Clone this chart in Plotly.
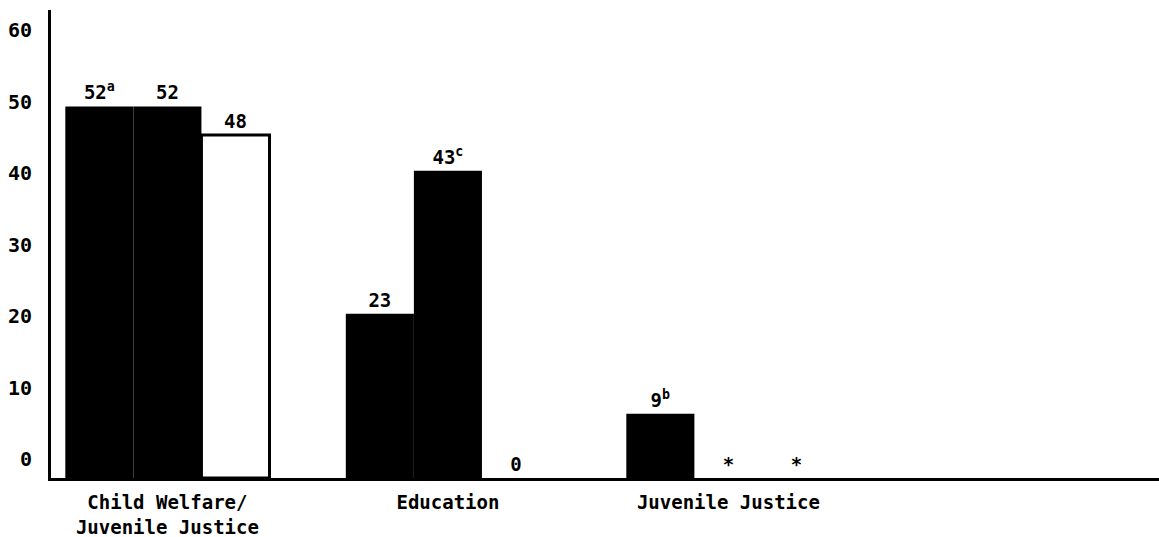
import plotly.graph_objects as go

# Program areas along the horizontal axis
categories = ["Child Welfare/<br>Juvenile Justice", "Education", "Juvenile Justice"]

# Three series per program area (None = not applicable, shown as "*")
series_1 = [52, 23, 9]
series_2 = [52, 43, None]
series_3 = [48, 0, None]

# Labels printed above each bar
labels_1 = ["52<sup>a</sup>", "23", "9<sup>b</sup>"]
labels_2 = ["52", "43<sup>c</sup>", "*"]
labels_3 = ["48", "0", "*"]

y_ticks = [0, 10, 20, 30, 40, 50, 60]

FONT = "DejaVu Sans Mono"


def heights(values):
    return [0 if v is None else v for v in values]


fig = go.Figure()

for vals, labels, fill in [
    (series_1, labels_1, "black"),
    (series_2, labels_2, "black"),
    (series_3, labels_3, "white"),
]:
    outline = [0 if (fill == "black" or not v) else 3 for v in vals]
    fig.add_trace(go.Bar(
        x=categories,
        y=heights(vals),
        text=labels,
        textposition="outside",
        cliponaxis=False,
        textfont=dict(family=FONT, size=19, color="black", weight="bold"),
        marker=dict(color=fill, line=dict(color="black", width=outline)),
        showlegend=False,
    ))

fig.update_layout(
    width=1159,
    height=537,
    margin=dict(l=51, r=0, t=10, b=59),
    paper_bgcolor="white",
    plot_bgcolor="white",
    barmode="group",
    bargap=0.272,
    bargroupgap=0,
    font=dict(family=FONT, color="black"),
    xaxis=dict(
        type="category",
        range=[-0.415, 3.535],
        automargin=False,
        showline=True,
        linecolor="black",
        linewidth=3,
        showgrid=False,
        ticks="",
        tickfont=dict(family=FONT, size=19, color="black", weight="bold"),
        ticklabelstandoff=5,
    ),
    yaxis=dict(
        range=[0, 65.5],
        automargin=False,
        tickvals=y_ticks,
        ticktext=[str(v) for v in y_ticks],
        showline=True,
        linecolor="black",
        linewidth=3,
        showgrid=False,
        zeroline=False,
        ticks="",
        tickfont=dict(family=FONT, size=20, color="black", weight="bold"),
        ticklabelstandoff=12,
        ticklabelshift=-19,
    ),
)

fig.write_html("out.html")
